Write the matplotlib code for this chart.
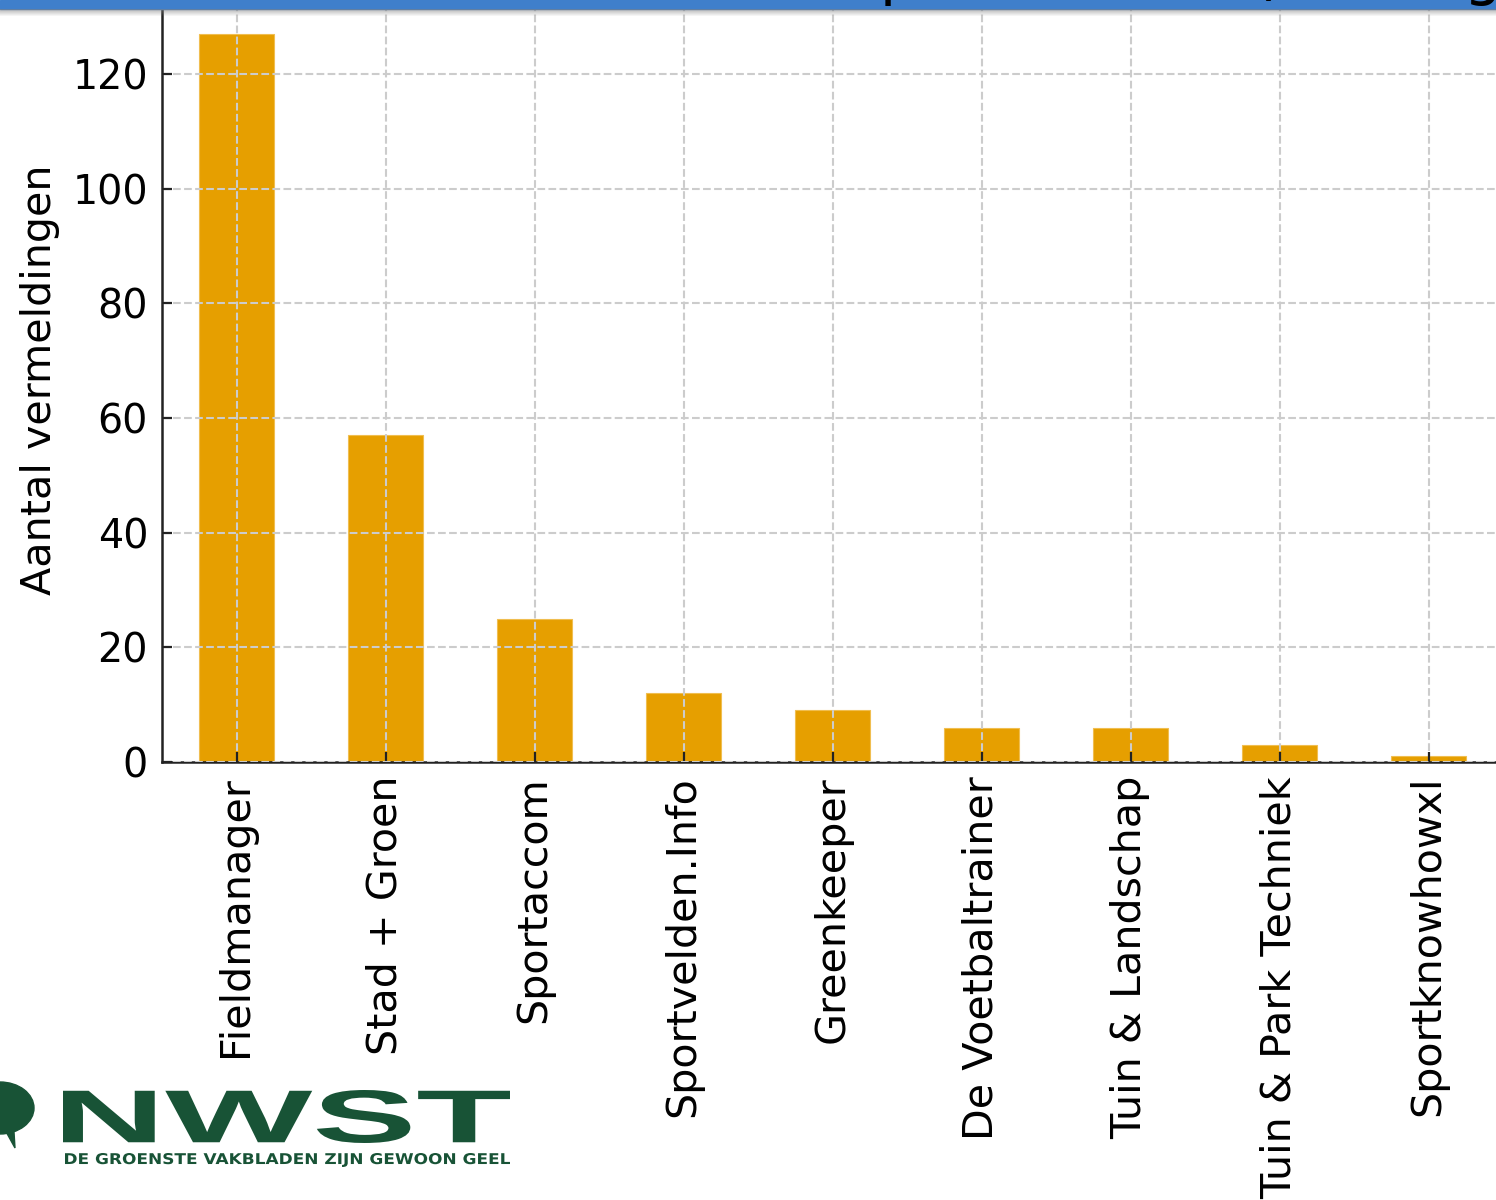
import numpy as np
import matplotlib
matplotlib.use("Agg")
import matplotlib.pyplot as plt
from matplotlib.textpath import TextPath
from matplotlib.font_manager import FontProperties
from matplotlib.patches import PathPatch, Rectangle, Ellipse, Polygon
from matplotlib.transforms import Affine2D, IdentityTransform

# data
vakbladen = ["Fieldmanager", "Stad + Groen", "Sportaccom", "Sportvelden.Info",
             "Greenkeeper", "De Voetbaltrainer", "Tuin & Landschap",
             "Tuin & Park Techniek", "Sportknowhowxl"]
vermeldingen = [127, 57, 25, 12, 9, 6, 6, 3, 1]
y_ticks = [0, 20, 40, 60, 80, 100, 120]

W, H = 1496, 1200
fig = plt.figure(figsize=(W / 100, H / 100), dpi=100)
ax = fig.add_axes([162 / W, 1 - 762 / H, 1341 / W, 764.5 / H])

x = np.arange(len(vakbladen))
ax.bar(x, vermeldingen, width=0.5, color="#E69F00", edgecolor="#F0BE50", linewidth=0.8)
ax.set_xlim(-0.5, len(vakbladen) - 0.5)
ax.set_ylim(0, max(vermeldingen) * 1.05)
ax.set_yticks(y_ticks)
ax.set_xticks(x)
ax.set_xticklabels(vakbladen, rotation=90, fontsize=29.7)
ax.set_ylabel("Aantal vermeldingen", fontsize=29.7, labelpad=9)

ax.set_axisbelow(False)
ax.grid(True, linestyle="--", color="#cccccc", linewidth=1.5)
ax.tick_params(direction="in", length=7, width=1.6, pad=10, color="#222222")
ax.tick_params(axis="y", labelsize=28.5)
for s in ["left", "bottom"]:
    ax.spines[s].set_linewidth(1.8)
    ax.spines[s].set_color("#222222")
for s in ["top", "right"]:
    ax.spines[s].set_visible(False)

# blue header band from the original screenshot, with shadow
px = IdentityTransform()
fig.patches.append(Rectangle((0, H - 9), W, 9, transform=px, color="#3F7FCB", zorder=5))
for i in range(7):
    fig.patches.append(Rectangle((0, H - 10 - i), W, 1, transform=px,
                                 color="#808080", alpha=0.55 * (1 - i / 7), zorder=5, lw=0))
fig.text(880, H + 7.5, "per vakblad (ranking)", transform=px, fontsize=43,
         va="baseline", ha="left", color="black", zorder=6)

# NWST logo
green = "#185336"


def fit_text(s, x0, x1, y0, y1, family="Liberation Sans"):
    tp = TextPath((0, 0), s, size=50, prop=FontProperties(family=family, weight="bold"))
    ext = tp.get_extents()
    tr = (Affine2D().translate(-ext.x0, -ext.y0)
          .scale((x1 - x0) / ext.width, (y1 - y0) / ext.height)
          .translate(x0, H - y1))
    fig.patches.append(PathPatch(tr.transform_path(tp), transform=px,
                                 color=green, lw=0, zorder=5))


fit_text("NWST", 63, 510, 1090, 1143)
fit_text("DE GROENSTE VAKBLADEN ZIJN GEWOON GEEL", 65, 510, 1153, 1167, family="DejaVu Sans")
fig.patches.append(Ellipse((0, H - 1108), 68, 52, transform=px, color=green, zorder=5))
fig.patches.append(Polygon([(4, H - 1128), (14, H - 1132), (15, H - 1148)],
                           transform=px, color=green, zorder=5))

fig.savefig("out.png", dpi=100)
